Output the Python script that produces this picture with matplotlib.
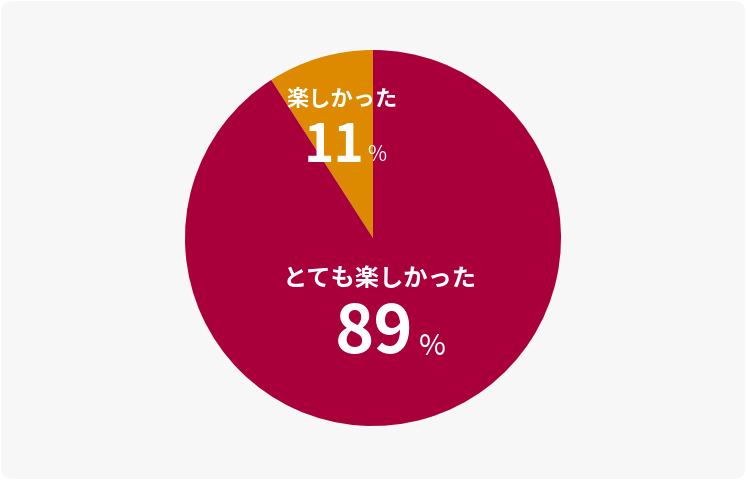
import matplotlib.pyplot as plt
from matplotlib.patches import FancyBboxPatch

# データ
labels = ['楽しかった', 'とても楽しかった']
label_pct = ['11', '89']
# 描かれている扇形の大きさ
shares = [9.1, 90.9]
colors = ['#dd8a00', '#a9003b']

plt.rcParams['font.family'] = ['Noto Sans CJK JP', 'DejaVu Sans']

W, H = 746, 480
fig = plt.figure(figsize=(W / 100, H / 100), dpi=100, facecolor='white')

# 背景の角丸パネル
bg = fig.add_axes([0, 0, 1, 1])
bg.set_axis_off()
bg.set_xlim(0, W)
bg.set_ylim(0, H)
bg.add_patch(FancyBboxPatch((1, 1), W - 2, H - 2, boxstyle='round,pad=0,rounding_size=12',
                            facecolor='#f7f7f7', edgecolor='none'))

# 円グラフ（中心 373,238 半径 188 px）
cx, cy, r = 373, 242, 188
ax = fig.add_axes([(cx - r) / W, (cy - r) / H, 2 * r / W, 2 * r / H])
ax.pie(shares, colors=colors, startangle=90, counterclock=True,
       wedgeprops=dict(linewidth=0))
ax.set_xlim(-1, 1)
ax.set_ylim(-1, 1)
ax.set_aspect('auto')


def px(x, y):
    return x / W, 1 - y / H


# ラベル
fig.text(*px(342, 100), labels[0], color='white', fontsize=16, fontweight='bold',
         ha='center', va='center')
fig.text(*px(365, 146), label_pct[0], color='white', fontsize=37, fontweight='bold',
         ha='right', va='center')
fig.text(*px(367, 155), '%', color='white', fontsize=15, ha='left', va='center')

fig.text(*px(380, 279), labels[1], color='white', fontsize=17.5, fontweight='bold',
         ha='center', va='center')
fig.text(*px(414, 334), label_pct[1], color='white', fontsize=48, fontweight='bold',
         ha='right', va='center')
fig.text(*px(419, 347), '%', color='white', fontsize=21, ha='left', va='center')

fig.savefig('out.png', dpi=100, facecolor='white')
